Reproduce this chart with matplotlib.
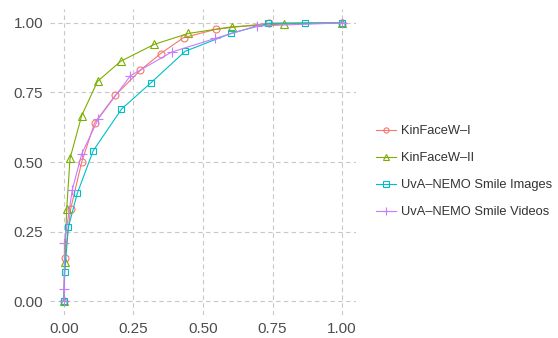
import matplotlib

matplotlib.use("Agg")
import matplotlib.pyplot as plt  # noqa: E402

plt.rcParams["font.family"] = ["Liberation Sans", "DejaVu Sans"]

# series: (x, y)
kin1_x = [0.0, 0.003, 0.024, 0.064, 0.11, 0.185, 0.275, 0.348, 0.43, 0.547, 0.737, 1.0]
kin1_y = [0.0, 0.155, 0.33, 0.50, 0.64, 0.74, 0.83, 0.89, 0.947, 0.977, 0.999, 1.0]

kin2_x = [0.0, 0.003, 0.01, 0.022, 0.064, 0.121, 0.204, 0.325, 0.447, 0.603, 0.791, 1.0]
kin2_y = [0.0, 0.14, 0.33, 0.513, 0.667, 0.79, 0.862, 0.923, 0.962, 0.986, 0.996, 1.0]

img_x = [0.0, 0.003, 0.016, 0.048, 0.105, 0.207, 0.313, 0.436, 0.602, 0.735, 0.865, 1.0]
img_y = [0.0, 0.105, 0.265, 0.387, 0.54, 0.69, 0.785, 0.898, 0.963, 0.998, 1.0, 1.0]

vid_x = [0.0, 0.001, 0.002, 0.03, 0.064, 0.124, 0.239, 0.387, 0.543, 0.693, 1.0]
vid_y = [0.0, 0.045, 0.21, 0.40, 0.529, 0.656, 0.81, 0.895, 0.944, 0.989, 1.0]

labels = ["KinFaceW\u2013I", "KinFaceW\u2013II",
          "UvA\u2013NEMO Smile Images", "UvA\u2013NEMO Smile Videos"]
colors = ["#F8766D", "#7CAE00", "#00BFC4", "#C77CFF"]
markers = ["o", "^", "s", "+"]
msizes = [5, 5.5, 5, 7]
ticks = [0.0, 0.25, 0.5, 0.75, 1.0]
tick_labels = ["0.00", "0.25", "0.50", "0.75", "1.00"]

fig = plt.figure(figsize=(5.58, 3.38), dpi=100)
ax = fig.add_axes([50 / 558, 23 / 338, 306 / 558, 306 / 338])

series = [(kin1_x, kin1_y), (kin2_x, kin2_y), (img_x, img_y), (vid_x, vid_y)]
for (xs, ys), lab, col, mk, ms in zip(series, labels, colors, markers, msizes):
    ax.plot(xs, ys, color=col, linewidth=0.8, marker=mk, markersize=ms,
            markerfacecolor="none", markeredgecolor=col, markeredgewidth=0.8, label=lab)

ax.set_xlim(-0.05, 1.05)
ax.set_ylim(-0.05, 1.05)
ax.set_xticks(ticks)
ax.set_xticklabels(tick_labels)
ax.set_yticks(ticks)
ax.set_yticklabels(tick_labels)
ax.grid(True, color="#C8C8C8", linestyle=(0, (4, 3)), linewidth=0.8)
ax.set_axisbelow(True)
for s in ax.spines.values():
    s.set_visible(False)
ax.tick_params(length=0, labelsize=11, colors="#4D4D4D", pad=5)

ax.legend(loc="center left", bbox_to_anchor=(364 / 558, 0.492), bbox_transform=fig.transFigure,
          frameon=False, fontsize=9.3, handlelength=1.6, labelspacing=1.15,
          handletextpad=0.38, markerscale=0.75, labelcolor="#333333")

fig.savefig("out.png", dpi=100)
